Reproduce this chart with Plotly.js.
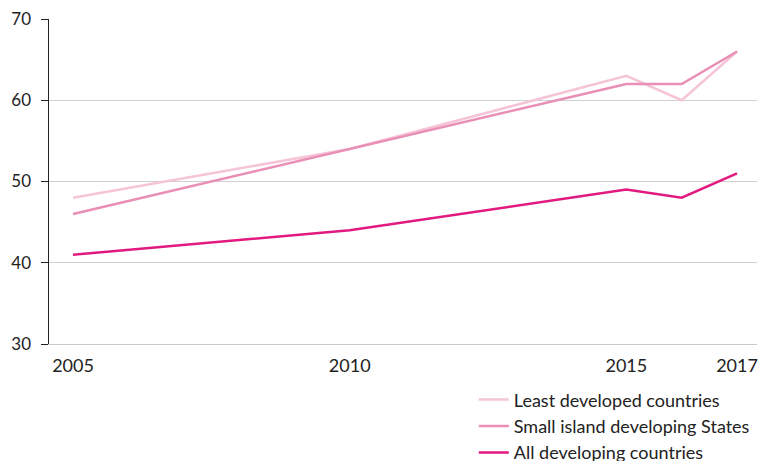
<!DOCTYPE html>
<html><head><meta charset="utf-8">
<script src="https://cdn.plot.ly/plotly-3.0.1.min.js"></script>
<style>body{margin:0;padding:0;background:#fff}#chart{width:759px;height:461px}</style>
</head><body><div id="chart"></div>
<script>
const years = [2005, 2010, 2015, 2016, 2017];
const ldc = [48, 54, 63, 60, 66];
const sids = [46, 54, 62, 62, 66];
const allDev = [41, 44, 49, 48, 51];
const names = ["Least developed countries", "Small island developing States", "All developing countries"];
const colors = ["#f5c4d7", "#e98eb4", "#e2197f"];
const xTicks = [2005, 2010, 2015, 2017];
const yTicks = [30, 40, 50, 60, 70];

const series = [ldc, sids, allDev];
const traces = series.map((s, i) => ({
  x: years, y: s, type: "scatter", mode: "lines", name: names[i],
  line: {color: colors[i], width: 2.5}
}));

const layout = {
  width: 759, height: 461,
  margin: {l: 49, r: 2, t: 19, b: 117, autoexpand: false},
  paper_bgcolor: "#fff", plot_bgcolor: "#fff",
  font: {family: "Lato, 'Open Sans', sans-serif", size: 18, color: "#222"},
  showlegend: true,
  legend: {x: 0.6, xanchor: "left", y: -0.115, yanchor: "top", orientation: "v",
    font: {size: 18, color: "#222"}, bgcolor: "rgba(0,0,0,0)", tracegroupgap: 0},
  xaxis: {range: [2004.566, 2017.361], tickvals: xTicks, ticktext: xTicks.map(String),
    showgrid: false, zeroline: false, showline: true, linecolor: "#c8c8c8", linewidth: 1,
    ticks: "outside", ticklen: 5, tickcolor: "rgba(0,0,0,0)", tickfont: {size: 18},
    fixedrange: true},
  yaxis: {range: [30, 70], tickvals: yTicks, showgrid: true, gridcolor: "#d0d0d0", gridwidth: 1,
    zeroline: false, showline: true, linecolor: "#222", linewidth: 1.5,
    ticks: "outside", ticklen: 7, tickcolor: "#222", tickfont: {size: 17},
    ticklabelstandoff: 6, fixedrange: true}
};
Plotly.newPlot("chart", traces, layout, {staticPlot: true});
</script></body></html>
